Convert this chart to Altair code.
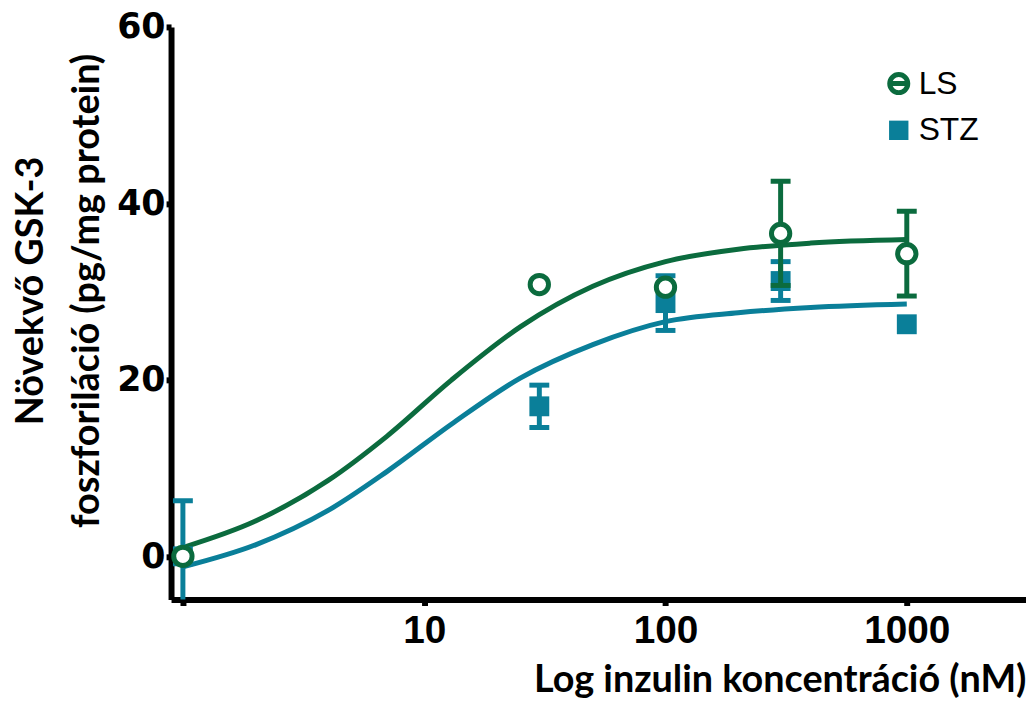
import altair as alt
import pandas as pd

# ---- data ----
x_conc = [1, 30, 100, 300, 1000]
ls_mean = [0.0, 30.8, 30.5, 36.6, 34.3]
ls_err = [0.0, 0.0, 0.0, 5.9, 4.8]
stz_mean = [0.0, 17.0, 28.7, 31.2, 26.3]
stz_err = [6.3, 2.4, 3.1, 2.2, 0.0]

curve_x = [1, 2, 4, 7, 13, 25, 50, 100, 200, 400, 1000]
ls_curve = [1.0, 4.0, 8.6, 13.6, 20.0, 26.0, 30.6, 33.4, 34.8, 35.5, 35.9]
stz_curve = [-1.2, 1.3, 5.2, 9.6, 15.0, 20.2, 24.0, 26.6, 27.6, 28.2, 28.6]

series = ["LS", "STZ"]
colors = ["#0B6B3E", "#0A7F99"]
x_ticks = [1, 10, 100, 1000]
y_ticks = [0, 20, 40, 60]

GREEN, BLUE = colors

pts_rows = []
for name, means, errs in (("LS", ls_mean, ls_err), ("STZ", stz_mean, stz_err)):
    for x, m, e in zip(x_conc, means, errs):
        pts_rows.append({"series": name, "x": x, "mean": m, "err": e, "lo": m - e, "hi": m + e})
pts = pd.DataFrame(pts_rows)

curve_rows = []
for name, ys in (("LS", ls_curve), ("STZ", stz_curve)):
    for x, y in zip(curve_x, ys):
        curve_rows.append({"series": name, "x": x, "y": y})
curves = pd.DataFrame(curve_rows)

legend_df = pd.DataFrame({"series": series})

xs = alt.Scale(type="log", domain=[0.893, 3119], nice=False)
ys = alt.Scale(domain=[-4.9, 60], nice=False, zero=False)
cs = alt.Scale(domain=series, range=colors)

x_axis = alt.Axis(
    values=x_ticks,
    labelExpr="datum.value < 5 ? '' : format(datum.value, 'd')",
    labelFont="Liberation Sans Narrow, Liberation Sans", labelFontWeight="bold", labelFontSize=39,
    labelColor="black", labelPadding=6,
    tickSize=6, tickWidth=6, tickColor="black",
    domainWidth=6, domainColor="black", grid=False,
    title="Log inzulin koncentráció (nM)",
    titleFont="Lato", titleFontWeight="bold", titleFontSize=38, titleColor="black",
    titleAnchor="end", titlePadding=11,
)
y_axis = alt.Axis(
    values=y_ticks,
    labelFont="DejaVu Sans", labelFontWeight="bold", labelFontSize=35,
    labelColor="black", labelPadding=1,
    tickSize=5, tickWidth=6, tickColor="black",
    domainWidth=6, domainColor="black", grid=False,
    title=["Növekvő GSK-3", "foszforiláció (pg/mg protein)"],
    titleFont="Lato", titleFontWeight="bold", titleFontSize=38, titleColor="black",
    titleAngle=-90, titleX=-140, titleY=265, titleAlign="center",
    titleBaseline="middle", titleLineHeight=56,
)

X = alt.X("x:Q", scale=xs, axis=x_axis)
Y = alt.Y("y:Q", scale=ys, axis=y_axis)

curve_layer = alt.Chart(curves).mark_line(strokeWidth=5, interpolate="monotone", clip=True).encode(
    x=X, y=Y, color=alt.Color("series:N", scale=cs, legend=None)
)

def err_layers(name, color):
    base = alt.Chart(pts).transform_filter(f"datum.series == '{name}' && datum.err > 0")
    rules = base.mark_rule(strokeWidth=5, color=color, clip=True).encode(
        x=alt.X("x:Q", scale=xs), y=alt.Y("lo:Q", scale=ys), y2="hi:Q"
    )
    caps = base.transform_fold(["lo", "hi"], as_=["k", "v"]).mark_tick(
        orient="horizontal", size=20, thickness=5, color=color, clip=True, opacity=1
    ).encode(x=alt.X("x:Q", scale=xs), y=alt.Y("v:Q", scale=ys))
    return rules, caps

stz_rules, stz_caps = err_layers("STZ", BLUE)
ls_rules, ls_caps = err_layers("LS", GREEN)

stz_pts = alt.Chart(pts).transform_filter("datum.series == 'STZ'").mark_point(
    shape="square", filled=True, size=400, color=BLUE, opacity=1, strokeWidth=0
).encode(x=alt.X("x:Q", scale=xs), y=alt.Y("mean:Q", scale=ys))

ls_pts = alt.Chart(pts).transform_filter("datum.series == 'LS'").mark_point(
    shape="circle", filled=True, fill="white", stroke=GREEN, strokeWidth=5, size=340, opacity=1
).encode(x=alt.X("x:Q", scale=xs), y=alt.Y("mean:Q", scale=ys))

data_layer = alt.layer(curve_layer, stz_rules, stz_caps, stz_pts, ls_rules, ls_caps, ls_pts)

# ---- legend ----
LY = alt.Y("series:N", scale=alt.Scale(type="point", domain=series, range=[57, 104], padding=0), axis=None)
leg_ls = alt.Chart(legend_df).transform_filter("datum.series == 'LS'").mark_point(
    shape="M-1,0A1,1,0,1,1,1,0A1,1,0,1,1,-1,0ZM-1,0L1,0", filled=True, fill="white",
    stroke=GREEN, strokeWidth=5, size=330, opacity=1
).encode(x=alt.value(732), y=LY)
leg_stz = alt.Chart(legend_df).transform_filter("datum.series == 'STZ'").mark_point(
    shape="square", filled=True, color=BLUE, size=380, opacity=1, strokeWidth=0
).encode(x=alt.value(732), y=LY)
leg_txt = alt.Chart(legend_df).mark_text(
    align="left", baseline="middle", font="Liberation Sans", fontSize=32, color="black"
).encode(x=alt.value(752), y=LY, text="series:N")
legend_layer = alt.layer(leg_ls, leg_stz, leg_txt)

chart = alt.layer(data_layer, legend_layer).resolve_scale(y="independent").properties(
    width=860, height=576,
    autosize=alt.AutoSizeParams(type="none"),
    padding={"left": 164, "top": 17, "right": 0, "bottom": 99},
    background="white",
).configure_view(stroke=None)

chart.save("out.html", embed_options={"renderer": "svg", "actions": False})
